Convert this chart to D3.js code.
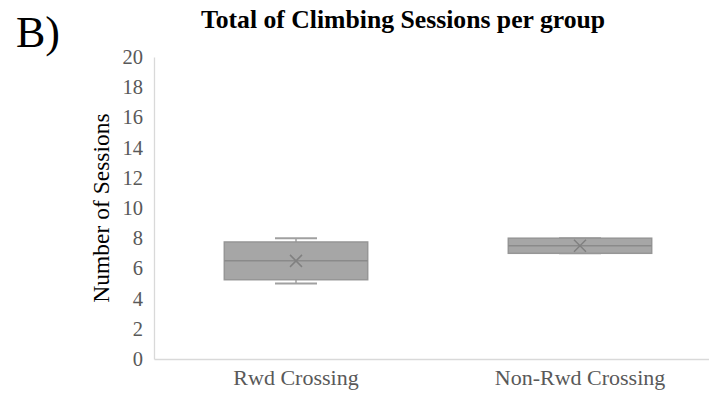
<!DOCTYPE html>
<html>
<head>
<meta charset="utf-8">
<script src="https://cdn.jsdelivr.net/npm/d3@7"></script>
<style>
  html, body { margin: 0; padding: 0; background: #fff; }
  svg { display: block; }
</style>
</head>
<body>
<script>
// Groups and their five-number summaries (plus mean)
const groups   = ["Rwd Crossing", "Non-Rwd Crossing"];
const minVals  = [5, 7];
const q1Vals   = [5.25, 7];
const medVals  = [6.5, 7.5];
const q3Vals   = [7.75, 8];
const maxVals  = [8, 8];
const meanVals = [6.5, 7.5];
const yTicks   = [0, 2, 4, 6, 8, 10, 12, 14, 16, 18, 20];

const W = 709, H = 402;
const margin = { left: 154, right: -13, top: 57, bottom: 43 };

const svg = d3.select("body").append("svg")
  .attr("width", W).attr("height", H);

const x = d3.scaleBand()
  .domain(groups)
  .range([margin.left, W - margin.right])
  .padding(0);

const y = d3.scaleLinear()
  .domain([0, 20])
  .range([H - margin.bottom, margin.top]);

const serif = "'Liberation Serif', 'Times New Roman', serif";

// Panel letter
svg.append("text")
  .attr("x", 16).attr("y", 47)
  .attr("font-family", serif).attr("font-size", 44)
  .attr("fill", "#000")
  .text("B)");

// Title
svg.append("text")
  .attr("x", 403).attr("y", 28)
  .attr("text-anchor", "middle")
  .attr("font-family", serif).attr("font-size", 25.7).attr("font-weight", "bold")
  .attr("fill", "#000")
  .text("Total of Climbing Sessions per group");

// Y axis
const yAxis = svg.append("g")
  .attr("transform", `translate(${margin.left},0)`)
  .call(d3.axisLeft(y).tickValues(yTicks).tickSize(0).tickPadding(11));
yAxis.select(".domain").attr("stroke", "#d9d9d9").attr("stroke-width", 1.3);
yAxis.selectAll("text")
  .attr("font-family", serif).attr("font-size", 20.5).attr("fill", "#595959");

// X axis
const xAxis = svg.append("g")
  .attr("transform", `translate(0,${y(0)})`)
  .call(d3.axisBottom(x).tickSize(0));
xAxis.select(".domain").attr("stroke", "#d9d9d9").attr("stroke-width", 1.3);
xAxis.selectAll("text")
  .attr("y", 26).attr("dy", 0)
  .attr("font-family", serif).attr("font-size", 22).attr("fill", "#595959");

// Y axis title
svg.append("text")
  .attr("transform", `translate(109,${(y(0) + y(20)) / 2}) rotate(-90)`)
  .attr("text-anchor", "middle")
  .attr("font-family", serif).attr("font-size", 23.5)
  .attr("fill", "#000")
  .text("Number of Sessions");

// Boxes
const boxW = x.bandwidth() * 0.505;
const capW = 42;
const boxes = svg.append("g");

groups.forEach((g, i) => {
  const cx = x(g) + x.bandwidth() / 2;
  const grp = boxes.append("g");

  // whiskers
  grp.append("line")
    .attr("x1", cx).attr("x2", cx)
    .attr("y1", y(maxVals[i])).attr("y2", y(q3Vals[i]))
    .attr("stroke", "#a0a0a0").attr("stroke-width", 1.5);
  grp.append("line")
    .attr("x1", cx).attr("x2", cx)
    .attr("y1", y(q1Vals[i])).attr("y2", y(minVals[i]))
    .attr("stroke", "#a0a0a0").attr("stroke-width", 1.5);
  [maxVals[i], minVals[i]].forEach(v => {
    grp.append("line")
      .attr("x1", cx - capW / 2).attr("x2", cx + capW / 2)
      .attr("y1", y(v)).attr("y2", y(v))
      .attr("stroke", "#a0a0a0").attr("stroke-width", 2);
  });

  // box
  grp.append("rect")
    .attr("x", cx - boxW / 2)
    .attr("y", y(q3Vals[i]))
    .attr("width", boxW)
    .attr("height", y(q1Vals[i]) - y(q3Vals[i]))
    .attr("fill", "#a6a6a6")
    .attr("stroke", "#969696").attr("stroke-width", 1.5);

  // median
  grp.append("line")
    .attr("x1", cx - boxW / 2).attr("x2", cx + boxW / 2)
    .attr("y1", y(medVals[i])).attr("y2", y(medVals[i]))
    .attr("stroke", "#8a8a8a").attr("stroke-width", 1.5);

  // mean marker
  const s = 6;
  const my = y(meanVals[i]);
  grp.append("path")
    .attr("d", `M${cx - s},${my - s}L${cx + s},${my + s}M${cx - s},${my + s}L${cx + s},${my - s}`)
    .attr("stroke", "#808080").attr("stroke-width", 1.5).attr("fill", "none");
});
</script>
</body>
</html>
